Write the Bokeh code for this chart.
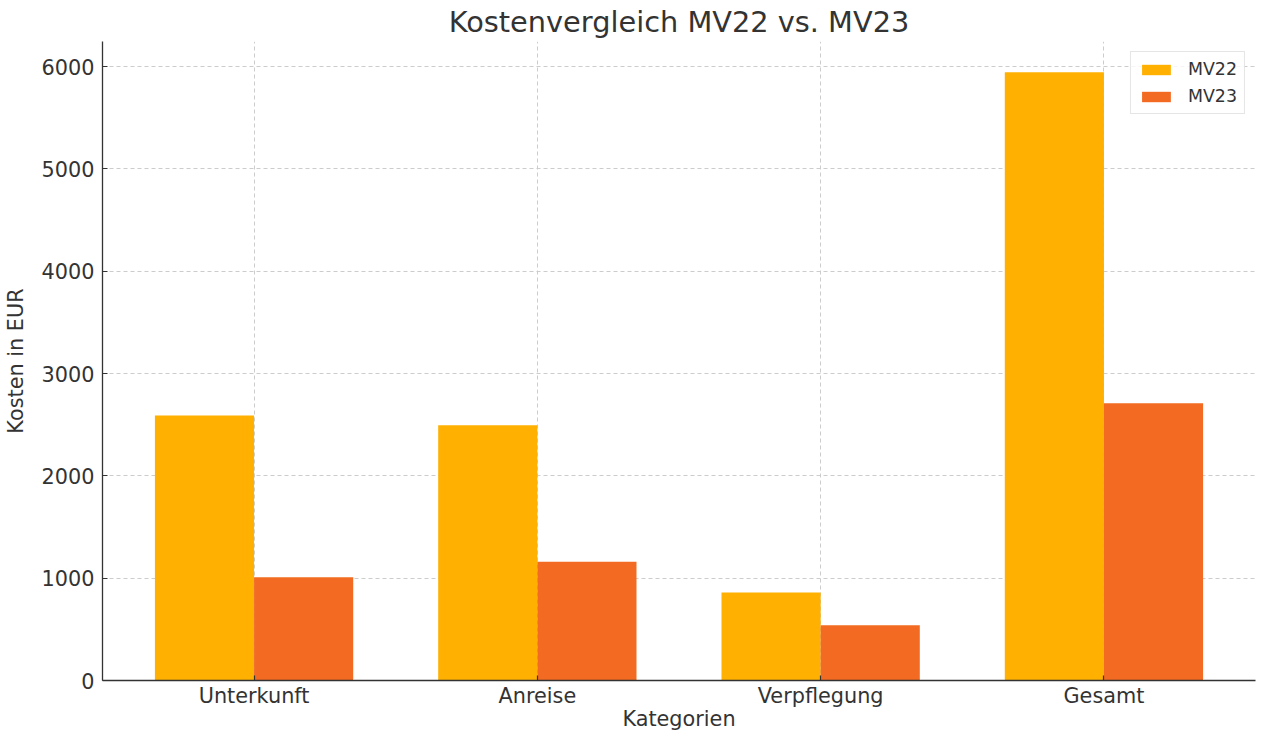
from bokeh.plotting import figure
from bokeh.models import ColumnDataSource, FixedTicker, Legend, LegendItem, Range1d
from bokeh.transform import dodge
from bokeh.embed import file_html
from bokeh.resources import INLINE

# ---- data ----
categories = ["Unterkunft", "Anreise", "Verpflegung", "Gesamt"]
mv22 = [2590, 2495, 860, 5945]
mv23 = [1010, 1160, 540, 2710]
series_names = ["MV22", "MV23"]
y_ticks = [0, 1000, 2000, 3000, 4000, 5000, 6000]

title_text = "Kostenvergleich MV22 vs. MV23"
x_label = "Kategorien"
y_label = "Kosten in EUR"

colors = ["#FFB000", "#F36B22"]
FONT = "DejaVu Sans"
TXT = "#333333"

xs = list(range(len(categories)))
src = ColumnDataSource(dict(x=xs, mv22=mv22, mv23=mv23))

p = figure(
    width=1257, height=733,
    output_backend="svg", toolbar_location=None,
    x_range=Range1d(-0.535, 3.535), y_range=Range1d(0, 6245),
    min_border_left=93, min_border_right=2, min_border_top=0, min_border_bottom=0,
)
p.outline_line_color = None
p.background_fill_color = "white"

p.title.text = title_text
p.title.align = "center"
p.title.text_font = FONT
p.title.text_font_size = "28.8px"
p.title.text_font_style = "normal"
p.title.text_color = TXT
p.title.standoff = 5

bw = 0.35
r1 = p.vbar(x=dodge("x", -bw / 2), top="mv22", width=bw, source=src,
            fill_color=colors[0], line_color=None)
r2 = p.vbar(x=dodge("x", bw / 2), top="mv23", width=bw, source=src,
            fill_color=colors[1], line_color=None)

# axes
p.xaxis.ticker = FixedTicker(ticks=xs)
p.xaxis.major_label_overrides = {i: c for i, c in enumerate(categories)}
p.yaxis.ticker = FixedTicker(ticks=y_ticks)
p.xaxis.axis_label = x_label
p.yaxis.axis_label = y_label

for ax in (p.xaxis, p.yaxis):
    ax.axis_line_color = TXT
    ax.axis_line_width = 1.3
    ax.major_tick_line_color = TXT
    ax.major_tick_line_width = 1.2
    ax.major_tick_in = 5
    ax.major_tick_out = 0
    ax.minor_tick_line_color = None
    ax.major_label_text_font = FONT
    ax.major_label_text_font_size = "20.8px"
    ax.major_label_text_color = TXT
    ax.axis_label_text_font = FONT
    ax.axis_label_text_font_size = "20.8px"
    ax.axis_label_text_font_style = "normal"
    ax.axis_label_text_color = TXT

p.yaxis.major_label_standoff = 8
p.yaxis.axis_label_standoff = 11
p.xaxis.major_label_standoff = 3
p.xaxis.axis_label_standoff = -4

# grid
for g in (p.xgrid, p.ygrid):
    g.grid_line_color = "#cccccc"
    g.grid_line_dash = "4 3"
    g.grid_line_width = 1

# legend
legend = Legend(
    items=[LegendItem(label=series_names[0], renderers=[r1]),
           LegendItem(label=series_names[1], renderers=[r2])],
    location="top_right",
)
legend.margin = 10
legend.padding = 7
legend.spacing = 7
legend.glyph_width = 36
legend.glyph_height = 13
legend.label_height = 20
legend.label_standoff = 14
legend.label_text_font = FONT
legend.label_text_font_size = "17.4px"
legend.label_text_color = TXT
legend.border_line_color = "#cccccc"
legend.border_line_width = 1
legend.background_fill_alpha = 0.8
p.add_layout(legend)

open("out.html", "w").write(file_html(p, INLINE))
